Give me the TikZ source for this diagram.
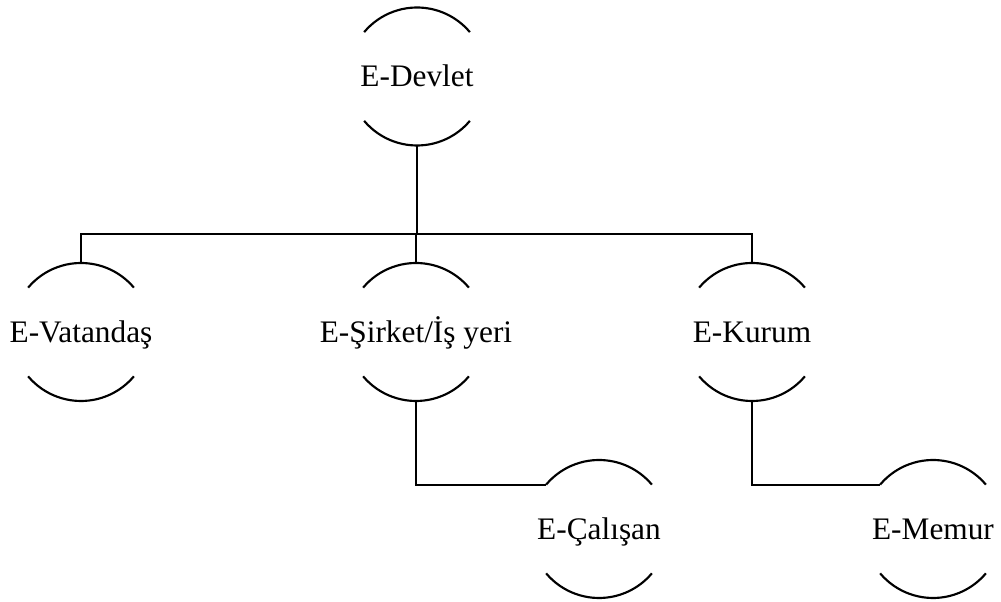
\documentclass[tikz,border=0pt]{standalone}
\usepackage{fontspec}
\setmainfont{Liberation Serif}
\usepackage{tikz}
\usetikzlibrary{calc}
\newcommand{\arcrad}{69}

\begin{document}
\begin{tikzpicture}[x=0.75pt,y=0.75pt,line width=1.6pt,
  unit/.style={font=\fontsize{23.5}{28}\selectfont,inner sep=0pt,text height=15.5pt,text depth=0pt}]
  \useasboundingbox (0,0) rectangle (1001,602);
  \node[unit] (devlet) at (417,525.5) {E-Devlet};
  \node[unit] (vatandas) at (81,270) {E-Vatandaş};
  \node[unit] (sirket) at (416,270) {E-Şirket/İş yeri};
  \node[unit] (kurum) at (752,270) {E-Kurum};
  \node[unit] (calisan) at (599,73) {E-Çalışan};
  \node[unit] (memur) at (933,73) {E-Memur};
  \foreach \n in {devlet,vatandas,sirket,kurum,calisan,memur} {
    \draw ([shift={(140:\arcrad)}]\n.center) arc[start angle=140,end angle=40,radius=\arcrad];
    \draw ([shift={(220:\arcrad)}]\n.center) arc[start angle=220,end angle=320,radius=\arcrad];
    \coordinate (\n-up) at ([shift={(0,\arcrad)}]\n.center);
    \coordinate (\n-dn) at ([shift={(0,-\arcrad)}]\n.center);
    \coordinate (\n-in) at ([shift={(140:\arcrad)}]\n.center);
  }
  \coordinate (bus) at (416,368);
  \draw[line width=2.2pt] (devlet-dn) -- (devlet-dn |- bus);
  \draw (vatandas-up) |- (bus) -| (kurum-up);
  \draw (sirket-up) -- (sirket-up |- bus);
  \draw (sirket-dn) |- (calisan-in);
  \draw (kurum-dn) |- (memur-in);
\end{tikzpicture}
\end{document}
